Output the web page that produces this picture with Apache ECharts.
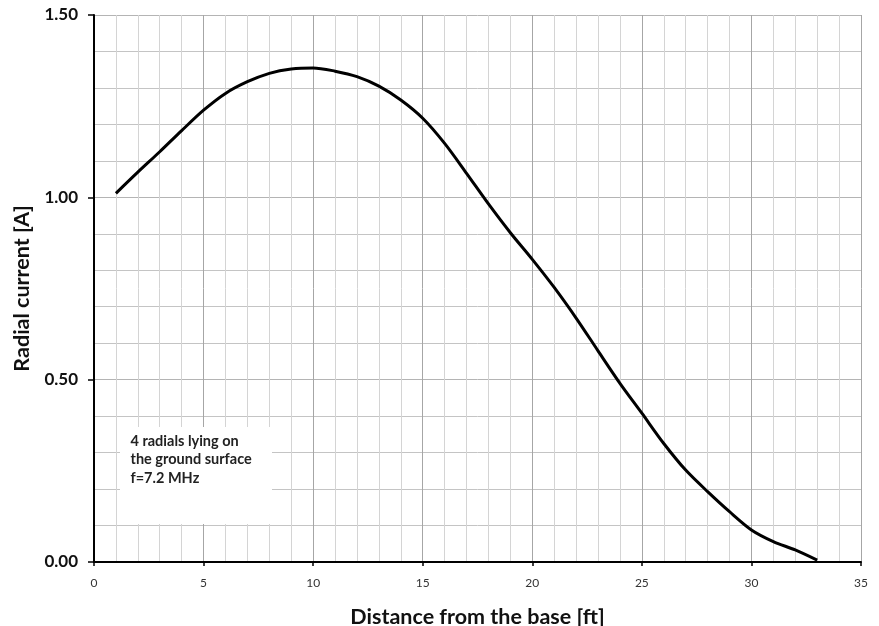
<!DOCTYPE html>
<html>
<head>
<meta charset="utf-8">
<script src="https://cdn.jsdelivr.net/npm/echarts@6/dist/echarts.min.js"></script>
<style>
html,body{margin:0;padding:0;background:#fff;}
#chart{width:879px;height:626px;}
</style>
</head>
<body>
<div id="chart"></div>
<script>
// Distance from the base [ft]
const distanceFt = [1,2,3,4,5,6,7,8,9,10,11,12,13,14,15,16,17,18,19,20,21,22,23,24,25,26,27,28,29,30,31,32,33];
// Radial current [A]
const currentA = [1.011,1.069,1.125,1.183,1.239,1.285,1.317,1.340,1.352,1.355,1.346,1.331,1.305,1.267,1.217,1.148,1.066,0.982,0.903,0.830,0.753,0.669,0.579,0.490,0.408,0.325,0.252,0.193,0.138,0.088,0.056,0.033,0.005];
const xTitle = 'Distance from the base [ft]';
const yTitle = 'Radial current [A]';
const noteLines = ['4 radials lying on', 'the ground surface', 'f=7.2 MHz'];

const fontFam = 'Lato, "Open Sans", sans-serif';
const chart = echarts.init(document.getElementById('chart'), null, {renderer: 'canvas'});
chart.setOption({
  animation: false,
  backgroundColor: '#ffffff',
  grid: {left: 94, right: 18, top: 15, bottom: 64, containLabel: false, outerBoundsMode: 'none'},
  xAxis: {
    type: 'value', min: 0, max: 35, interval: 5,
    name: xTitle, nameLocation: 'middle', nameGap: 44,
    nameTextStyle: {fontFamily: fontFam, fontWeight: 'bold', fontSize: 21.5, color: '#111'},
    axisLine: {show: true, onZero: false, lineStyle: {color: '#000', width: 2}},
    axisTick: {show: true, inside: false, length: 4, lineStyle: {color: '#000', width: 1.5}},
    axisLabel: {fontFamily: fontFam, fontSize: 12, color: '#333', margin: 15},
    splitLine: {show: true, lineStyle: {color: '#a6a6a6', width: 1}},
    minorTick: {show: false, splitNumber: 5},
    minorSplitLine: {show: true, lineStyle: {color: '#d4d4d4', width: 1}}
  },
  yAxis: {
    type: 'value', min: 0, max: 1.5, interval: 0.5,
    name: yTitle, nameLocation: 'middle', nameGap: 60,
    nameTextStyle: {fontFamily: fontFam, fontWeight: 'bold', fontSize: 21.5, color: '#111'},
    axisLine: {show: true, lineStyle: {color: '#000', width: 2}},
    axisTick: {show: true, inside: false, length: 6, lineStyle: {color: '#000', width: 1.5}},
    axisLabel: {fontFamily: fontFam, fontSize: 17, fontWeight: 'bold', color: '#111', margin: 16,
      formatter: v => v.toFixed(2)},
    splitLine: {show: true, lineStyle: {color: '#b4b4b4', width: 1}},
    minorTick: {show: false, splitNumber: 5},
    minorSplitLine: {show: true, lineStyle: {color: '#c4c4c4', width: 1}}
  },
  series: [{
    type: 'line',
    data: distanceFt.map((x, i) => [x, currentA[i]]),
    smooth: 0.3,
    showSymbol: false,
    lineStyle: {color: '#000', width: 3},
    z: 5
  }],
  graphic: [
    {type: 'rect', z: 100, silent: true, shape: {x: 120, y: 427, width: 152, height: 97}, style: {fill: '#ffffff'}},
    {type: 'text', z: 101, silent: true, x: 130.5, y: 431.5,
      style: {text: noteLines.join('\n'), fontFamily: fontFam, fontWeight: 'bold', fontSize: 14.5, fill: '#222', lineHeight: 18.7}}
  ]
});
</script>
</body>
</html>
